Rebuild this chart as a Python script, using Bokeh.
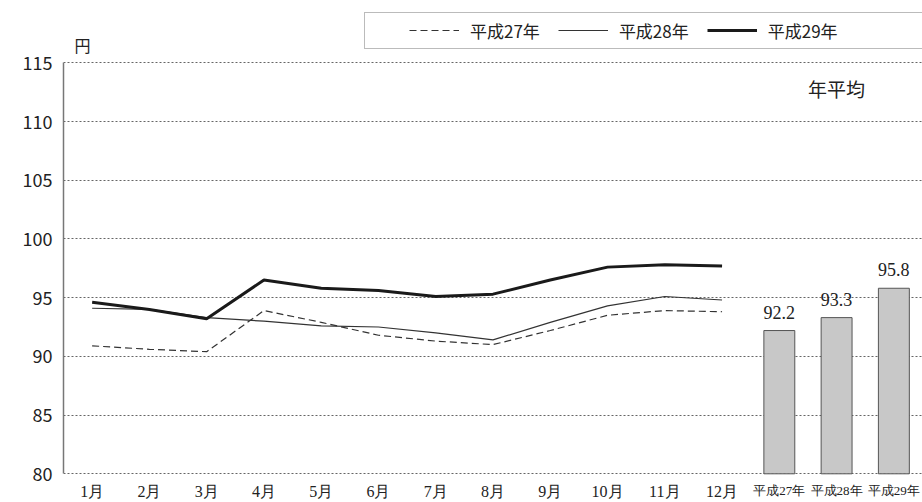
from bokeh.plotting import figure
from bokeh.models import (Range1d, FixedTicker, Legend, LegendItem, LabelSet, Label,
                          ColumnDataSource)
from bokeh.embed import file_html
from bokeh.resources import INLINE

months = ["1月", "2月", "3月", "4月", "5月", "6月", "7月", "8月", "9月", "10月", "11月", "12月"]
years = ["平成27年", "平成28年", "平成29年"]
h27 = [90.9, 90.6, 90.4, 93.9, 92.9, 91.8, 91.3, 91.0, 92.2, 93.5, 93.9, 93.8]
h28 = [94.1, 94.0, 93.3, 93.0, 92.6, 92.5, 92.0, 91.4, 92.9, 94.3, 95.1, 94.8]
h29 = [94.6, 94.0, 93.2, 96.5, 95.8, 95.6, 95.1, 95.3, 96.5, 97.6, 97.8, 97.7]
averages = [92.2, 93.3, 95.8]
y_ticks = [80, 85, 90, 95, 100, 105, 110, 115]

FONT = "Noto Sans CJK JP"

mx = list(range(len(months)))
bx = [len(months) + i for i in range(len(years))]
cats = mx + bx

# plot frame covers the full height; value axis spans 80..115 with room for texts around it
W, H = 922, 502
TOP_PAD, BOTTOM_PAD = 62.3, 28.7
ppu = (H - TOP_PAD - BOTTOM_PAD) / (y_ticks[-1] - y_ticks[0])
y_lo = y_ticks[0] - BOTTOM_PAD / ppu
y_hi = y_ticks[-1] + TOP_PAD / ppu

p = figure(width=W, height=H, output_backend="svg", toolbar_location=None,
           x_range=Range1d(-0.5, len(cats) - 0.5),
           y_range=Range1d(y_lo, y_hi),
           min_border_left=63, min_border_right=0, min_border_top=0, min_border_bottom=0)
p.outline_line_color = None
p.background_fill_color = "white"
p.xaxis.visible = False

# grid
p.xgrid.grid_line_color = None
p.ygrid.grid_line_color = "#666666"
p.ygrid.grid_line_dash = "2 2"
p.ygrid.grid_line_width = 1.2
p.ygrid.ticker = FixedTicker(ticks=y_ticks)

# value axis
p.yaxis.ticker = FixedTicker(ticks=y_ticks)
p.yaxis.bounds = (y_ticks[0], y_ticks[-1])
p.yaxis.axis_line_color = "#777777"
p.yaxis.axis_line_width = 1.5
p.yaxis.major_tick_line_color = None
p.yaxis.major_tick_out = 0
p.yaxis.major_tick_in = 0
p.yaxis.minor_tick_line_color = None
p.yaxis.minor_tick_out = 0
p.yaxis.major_label_standoff = 11
p.yaxis.major_label_text_font = FONT
p.yaxis.major_label_text_font_size = "18px"
p.yaxis.major_label_text_color = "#222"

# unit label
p.add_layout(Label(x=-0.17, y=y_ticks[-1] + 1.5, text="円", text_align="center",
                   text_baseline="middle", text_font=FONT, text_font_size="16px",
                   text_color="#222"))

# lines
r27 = p.line(mx, h27, line_color="#333333", line_width=1.2, line_dash="7 4")
r28 = p.line(mx, h28, line_color="#333333", line_width=1.2)
r29 = p.line(mx, h29, line_color="#1a1a1a", line_width=3)
r_pad = p.line([], [], line_alpha=0)

# bars
bsrc = ColumnDataSource(dict(x=bx, top=averages, text=[f"{v:.1f}" for v in averages],
                             base=[y_ticks[0]] * len(years)))
p.vbar(x="x", top="top", bottom="base", width=0.54, source=bsrc,
       fill_color="#c8c8c8", line_color="#555555", line_width=1)
p.add_layout(LabelSet(x="x", y="top", text="text", source=bsrc, y_offset=12,
                      text_align="center", text_baseline="bottom",
                      text_font=FONT, text_font_size="18px", text_color="#222"))

# category labels
msrc = ColumnDataSource(dict(x=mx, y=[y_ticks[0]] * len(mx), text=months))
ysrc = ColumnDataSource(dict(x=bx, y=[y_ticks[0]] * len(bx), text=years))
p.add_layout(LabelSet(x="x", y="y", text="text", source=msrc, y_offset=-17.5,
                      text_align="center", text_baseline="middle",
                      text_font=FONT, text_font_size="16px", text_color="#222"))
p.add_layout(LabelSet(x="x", y="y", text="text", source=ysrc, y_offset=-17,
                      text_align="center", text_baseline="middle",
                      text_font=FONT, text_font_size="13px", text_color="#222"))

p.add_layout(Label(x=13.0, y=112.8, text="年平均", text_align="center",
                   text_baseline="middle", text_font=FONT, text_font_size="19px",
                   text_color="#222"))

# legend
legend = Legend(items=[LegendItem(label=years[0], renderers=[r27]),
                       LegendItem(label=years[1], renderers=[r28]),
                       LegendItem(label=years[2], renderers=[r29]),
                       LegendItem(label="\u3000", renderers=[r_pad])],
                orientation="horizontal", location=(301, 453.3),
                title="\u3000", title_location="left", title_standoff=15,
                title_text_font=FONT, title_text_font_size="16px",
                padding=5, margin=0, spacing=18, label_standoff=11,
                glyph_width=50, glyph_height=24, label_height=24,
                label_text_font=FONT, label_text_font_size="17px", label_text_color="#222",
                border_line_color="#777777", border_line_width=1.5,
                background_fill_color="white", background_fill_alpha=1)
p.add_layout(legend, "center")

open("out.html", "w").write(file_html(p, INLINE))
